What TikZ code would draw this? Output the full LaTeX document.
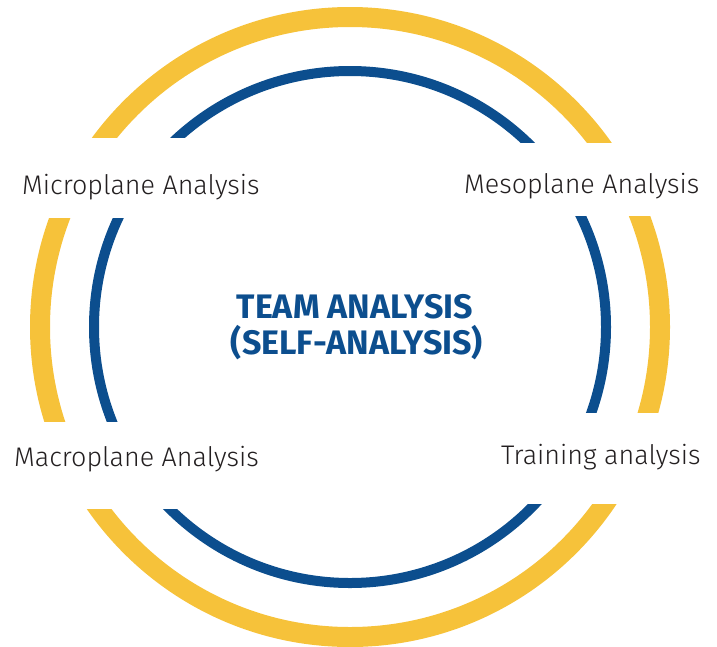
\documentclass[tikz,border=0pt]{standalone}
\usepackage{fontspec}
\setmainfont{Fira Sans}
\newfontfamily\lightfont{Fira Sans Light}
\definecolor{ringyellow}{HTML}{F6C23A}
\definecolor{ringblue}{HTML}{0C4E8E}
\definecolor{txt}{HTML}{231F20}
\begin{document}
\begin{tikzpicture}[x=1pt,y=-1pt,
  yring/.style={draw=ringyellow,line width=20pt},
  bring/.style={draw=ringblue,line width=10pt},
  gap/.style={fill=white,draw=none},
  lbl/.style={anchor=base west,inner sep=0pt,text=txt,font=\lightfont\fontsize{26.9}{31}\selectfont},
  ttl/.style={anchor=base,inner sep=0pt,text=ringblue,font=\fontsize{34}{38}\selectfont\bfseries}]
\useasboundingbox (0,0) rectangle (717,646);
\coordinate (c) at (350,327);
\draw[yring] (c) circle[radius=310pt];
\draw[bring] (c) circle[radius=256pt];
\fill[gap] (0,138) rectangle (300,218);
\fill[gap] (400,143) rectangle (717,216);
\fill[gap] (0,422) rectangle (300,509);
\fill[gap] (400,413) rectangle (717,504);
\node[lbl] (micro) at (22,194) {Microplane Analysis};
\node[lbl] (meso) at (464,193) {Mesoplane Analysis};
\node[lbl] (macro) at (14,466) {Macroplane Analysis};
\node[lbl] (train) at (501,464) {Training analysis};
\node[ttl] (team) at (355,318) {TEAM ANALYSIS};
\node[ttl] (self) at (357,354) {(SELF-ANALYSIS)};
\end{tikzpicture}
\end{document}
